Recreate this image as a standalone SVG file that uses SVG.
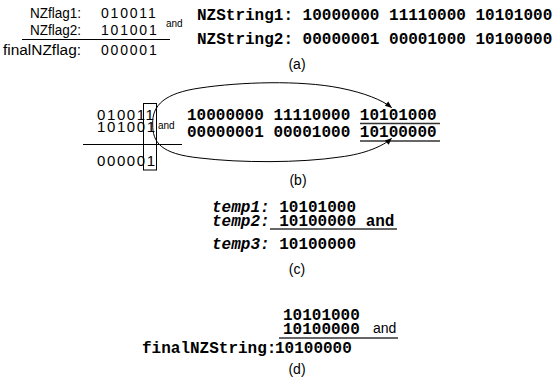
<svg xmlns="http://www.w3.org/2000/svg" width="554" height="383" viewBox="0 0 554 383">
<defs>
<style>
.s{font-family:"Liberation Sans",Arial,sans-serif;fill:#000}
.m{font-family:"Liberation Mono","Courier New",monospace;font-weight:bold;font-size:16px;fill:#000}
.it{font-style:italic}
.rule{stroke:#000;stroke-width:1;fill:none}
.ul{stroke:#333;stroke-width:1.5;fill:none}
.conn{stroke:#000;stroke-width:1;fill:none;marker-end:url(#ah)}
.cap{font-family:"Liberation Sans",Arial,sans-serif;font-size:14px;text-anchor:middle;fill:#000}
</style>
<marker id="ah" viewBox="0 0 10 10" refX="9" refY="5" markerWidth="8" markerHeight="7" orient="auto" markerUnits="userSpaceOnUse"><path d="M0,1 L10,5 L0,9 z" fill="#000"/></marker>
</defs>
<rect width="554" height="383" fill="#fff"/>

<g id="a-flags">
<text class="s" font-size="14" x="30" y="18" textLength="51" lengthAdjust="spacingAndGlyphs">NZflag1:</text>
<text class="s" font-size="14" x="101" y="18" letter-spacing="1.8">010011</text>
<text class="s" font-size="14" x="30" y="35" textLength="51" lengthAdjust="spacingAndGlyphs">NZflag2:</text>
<text class="s" font-size="14" x="101" y="35" letter-spacing="1.8">101001</text>
<line class="rule" x1="22" y1="39.5" x2="170" y2="39.5"/>
<text class="s" font-size="14" x="3" y="55" textLength="78" lengthAdjust="spacingAndGlyphs">finalNZflag:</text>
<text class="s" font-size="14" x="101" y="55" letter-spacing="1.8">000001</text>
<text class="s" font-size="10" x="166" y="27">and</text>
</g>
<g id="a-strings">
<text class="m" x="197" y="19.5">NZString1: 10000000 11110000 10101000</text>
<text class="m" x="197" y="44">NZString2: 00000001 00001000 10100000</text>
</g>
<text class="cap" x="297" y="69">(a)</text>

<g id="b-flags">
<text class="s" font-size="15" x="97" y="120" letter-spacing="1.6">010011</text>
<text class="s" font-size="15" x="97" y="132" letter-spacing="1.6">101001</text>
<line class="rule" x1="83" y1="144.5" x2="182" y2="144.5"/>
<text class="s" font-size="15" x="97" y="165.5" letter-spacing="1.6">000001</text>
<rect x="143.5" y="103.5" width="13" height="66.5" fill="none" stroke="#000" stroke-width="1"/>
<text class="s" font-size="10" x="158" y="128.5">and</text>
</g>
<g id="b-strings">
<text class="m" x="187" y="120">10000000 11110000 10101000</text>
<text class="m" x="187" y="137">00000001 00001000 10100000</text>
<line class="ul" x1="360" y1="123.5" x2="440" y2="123.5"/>
<line class="ul" x1="360" y1="141" x2="440" y2="141" stroke-width="2"/>
</g>
<g id="connectors">
<path class="conn" d="M152.7,124 C152,105 165,93 200,88 C240,82 300,80 340,88 C365,93 382,100 391.5,107.5"/>
<path class="conn" d="M152.7,124 C152.5,142 160,154 200,158 C240,163 300,163 340,157 C365,154 383,146 391.5,138.5"/>
</g>
<text class="cap" x="298" y="185">(b)</text>

<g id="c-temps">
<text class="m" x="212" y="212"><tspan class="it">temp1:</tspan> 10101000</text>
<text class="m" x="212" y="225.5"><tspan class="it">temp2:</tspan> 10100000 and</text>
<line class="ul" x1="270" y1="229" x2="397" y2="229"/>
<text class="m" x="212" y="249"><tspan class="it">temp3:</tspan> 10100000</text>
</g>
<text class="cap" x="297" y="274">(c)</text>

<g id="d-final">
<text class="m" x="283" y="320">10101000</text>
<text class="m" x="283" y="334">10100000</text>
<text class="s" font-size="14" x="373" y="333">and</text>
<line class="ul" x1="279" y1="338" x2="398" y2="338"/>
<text class="m" x="142" y="353">finalNZString:</text>
<text class="m" x="275" y="353">10100000</text>
</g>
<text class="cap" x="297" y="374">(d)</text>
</svg>
